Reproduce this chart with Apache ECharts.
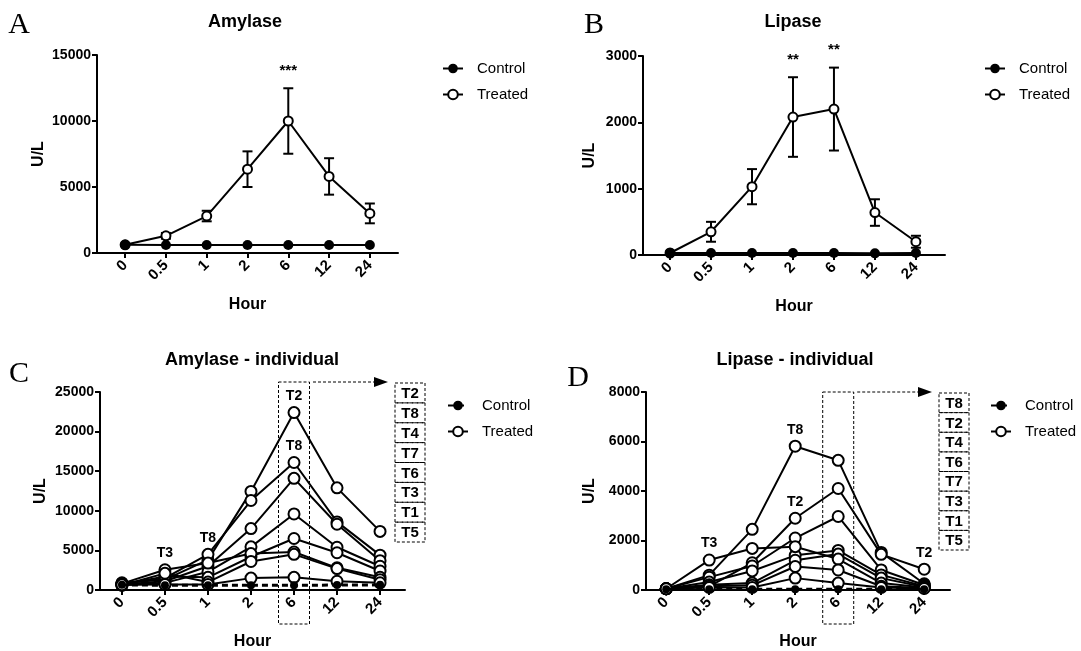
<!DOCTYPE html>
<html>
<head>
<meta charset="utf-8">
<script src="https://cdn.jsdelivr.net/npm/echarts@6/dist/echarts.min.js"></script>
<style>
  html, body { margin: 0; background: #fff; }
  #main { width: 1081px; height: 651px; }
</style>
</head>
<body>
<div id="main"></div>
<script>
// x categories (hours)
const hours = ['0', '0.5', '1', '2', '6', '12', '24'];

// A - amylase mean
const amyControl = [620, 610, 600, 610, 600, 600, 600];
const amyTreated = [620, 1300, 2800, 6350, 10000, 5800, 3000];
const amySem = [0, 220, 400, 1350, 2480, 1380, 750];
const amyStars = ['', '', '', '', '***', '', ''];

// B - lipase mean
const lipControl = [30, 30, 30, 30, 30, 25, 30];
const lipTreated = [30, 350, 1030, 2080, 2200, 640, 200];
const lipSem = [0, 150, 265, 600, 625, 200, 90];
const lipStars = ['', '', '', '**', '**', '', ''];

// C - amylase individual
const amyIndControl = [650, 600, 600, 600, 600, 620, 650];
const amyT2 = [900, 1300, 3800, 12450, 22400, 12900, 7400];
const amyT8 = [800, 1500, 4500, 11300, 16100, 8600, 4400];
const amyT4 = [700, 1100, 3000, 7750, 14100, 8300, 3700];
const amyT7 = [600, 900, 2300, 5450, 9600, 5400, 3000];
const amyT6 = [700, 1700, 1600, 4200, 6500, 4700, 2400];
const amyT3 = [800, 2550, 3400, 4600, 4800, 2800, 1600];
const amyT1 = [600, 2100, 1000, 3600, 4500, 2700, 1300];
const amyT5 = [650, 700, 700, 1500, 1600, 1100, 900];
const amyOrder = ['T2', 'T8', 'T4', 'T7', 'T6', 'T3', 'T1', 'T5'];
const amyAnno = [['T3', 1], ['T8', 2], ['T2', 4], ['T8', 4]];

// D - lipase individual
const lipIndControl = [30, 30, 30, 30, 30, 30, 30];
const lipT8 = [50, 600, 2450, 5810, 5240, 1520, 250];
const lipT2 = [50, 150, 1100, 2900, 4100, 1440, 840];
const lipT4 = [50, 520, 970, 2100, 2970, 810, 200];
const lipT6 = [50, 320, 770, 1400, 1600, 610, 150];
const lipT7 = [50, 210, 280, 1200, 1450, 480, 120];
const lipT3 = [50, 1210, 1680, 1750, 1250, 280, 100];
const lipT1 = [50, 150, 190, 950, 810, 150, 80];
const lipT5 = [50, 100, 100, 480, 280, 100, 60];
const lipOrder = ['T8', 'T2', 'T4', 'T6', 'T7', 'T3', 'T1', 'T5'];
const lipAnno = [['T3', 1], ['T8', 3], ['T2', 3], ['T2', 6]];

const black = '#000';
const sans = '"Liberation Sans", Arial, sans-serif';
const idx = hours.map((h, i) => i);

const chart = echarts.init(document.getElementById('main'));

// grids
const grids = [
  { left: 97, top: 55, width: 301, height: 198 },
  { left: 643, top: 56, width: 302, height: 199 },
  { left: 100, top: 392, width: 305, height: 200 },
  { left: 646, top: 392, width: 304, height: 200 }
];
const xRange = [[-0.69, 6.69], [-0.66, 6.71], [-0.51, 6.58], [-0.47, 6.6]];
const yMax = [15000, 3000, 25000, 8000];
const yStep = [5000, 1000, 5000, 2000];
const yNameGap = [50, 45, 51, 48];

function xAx(i) {
  return {
    gridIndex: i, type: 'value', min: xRange[i][0], max: xRange[i][1],
    name: 'Hour', nameLocation: 'middle', nameGap: 44,
    nameTextStyle: { fontFamily: sans, fontWeight: 'bold', fontSize: 16, color: black },
    axisLine: { onZero: false, lineStyle: { color: black, width: 2 } },
    axisTick: { customValues: idx, length: 5, lineStyle: { color: black, width: 2 } },
    axisLabel: {
      customValues: idx, rotate: 45, margin: 10, formatter: v => hours[v],
      fontFamily: sans, fontWeight: 'bold', fontSize: 15, color: black
    },
    splitLine: { show: false }
  };
}
function yAx(i) {
  return {
    gridIndex: i, type: 'value', min: 0, max: yMax[i], interval: yStep[i],
    name: 'U/L', nameLocation: 'middle', nameGap: yNameGap[i],
    nameTextStyle: { fontFamily: sans, fontWeight: 'bold', fontSize: 16, color: black },
    axisLine: { show: true, onZero: false, lineStyle: { color: black, width: 2 } },
    axisTick: { show: true, length: 5, lineStyle: { color: black, width: 2 } },
    axisLabel: { margin: 6, formatter: v => String(v),
      fontFamily: sans, fontWeight: 'bold', fontSize: 14, color: black },
    splitLine: { show: false }
  };
}

function pts(arr) { return arr.map((v, i) => [i, v]); }

function ctrl(name, gi, arr, dashed) {
  return {
    name, type: 'line', xAxisIndex: gi, yAxisIndex: gi, data: pts(arr),
    symbol: 'circle', symbolSize: dashed ? 8 : 10,
    itemStyle: { color: black },
    lineStyle: { color: black, width: dashed ? 3 : 2, type: dashed ? [6, 4] : 'solid' },
    z: 4, animation: false
  };
}
function treated(name, gi, arr, big, tag, anno) {
  const marks = anno ? anno.filter(a => a[0] === tag).map(a => a[1]) : [];
  return {
    name, type: 'line', xAxisIndex: gi, yAxisIndex: gi,
    data: arr.map((v, i) => marks.indexOf(i) >= 0
      ? { value: [i, v], label: { show: true, position: 'top', distance: 3, formatter: tag,
          fontFamily: sans, fontWeight: 'bold', fontSize: 14, color: black } }
      : [i, v]),
    symbol: 'emptyCircle', symbolSize: big ? 11 : 9, showAllSymbol: true,
    itemStyle: { color: black, borderWidth: big ? 2 : 1 },
    lineStyle: { color: black, width: 2 },
    z: 3, animation: false
  };
}
function errBars(gi, mean, sem, stars) {
  return {
    type: 'custom', xAxisIndex: gi, yAxisIndex: gi, silent: true, z: 2, animation: false,
    data: mean.map((m, i) => [i, m - sem[i], m + sem[i]]),
    encode: { x: 0, y: [1, 2] },
    renderItem: (params, api) => {
      const x = api.value(0);
      const top = api.coord([x, api.value(2)]);
      const bot = api.coord([x, api.value(1)]);
      const st = { stroke: black, lineWidth: 2 };
      const ch = [];
      if (bot[1] - top[1] > 2) {
        ch.push({ type: 'line', shape: { x1: top[0], y1: top[1], x2: bot[0], y2: bot[1] }, style: st });
        ch.push({ type: 'line', shape: { x1: top[0] - 5, y1: top[1], x2: top[0] + 5, y2: top[1] }, style: st });
        ch.push({ type: 'line', shape: { x1: bot[0] - 5, y1: bot[1], x2: bot[0] + 5, y2: bot[1] }, style: st });
      }
      const s = stars[params.dataIndex];
      if (s) {
        ch.push({ type: 'text', x: top[0], y: top[1] - 10,
          style: { text: s, textAlign: 'center', textVerticalAlign: 'bottom',
            font: 'bold 15px ' + sans, fill: black } });
      }
      return { type: 'group', children: ch };
    }
  };
}

const amyInd = { T2: amyT2, T8: amyT8, T4: amyT4, T7: amyT7, T6: amyT6, T3: amyT3, T1: amyT1, T5: amyT5 };
const lipInd = { T8: lipT8, T2: lipT2, T4: lipT4, T6: lipT6, T7: lipT7, T3: lipT3, T1: lipT1, T5: lipT5 };

const series = [
  errBars(0, amyTreated, amySem, amyStars),
  ctrl('Control', 0, amyControl, false),
  treated('Treated', 0, amyTreated, false),
  errBars(1, lipTreated, lipSem, lipStars),
  ctrl('Control', 1, lipControl, false),
  treated('Treated', 1, lipTreated, false),
  ctrl('Control (ind)', 2, amyIndControl, true),
  ctrl('Control (ind)', 3, lipIndControl, true)
];
amyOrder.forEach(t => series.push(treated('Treated (ind)', 2, amyInd[t], true, t, amyAnno)));
lipOrder.forEach(t => series.push(treated('Treated (ind)', 3, lipInd[t], true, t, lipAnno)));

function leg(left, top, names) {
  return {
    left, top, orient: 'vertical', itemGap: 11, itemWidth: 20, itemHeight: 12,
    data: names, selectedMode: false,
    formatter: n => n.replace(' (ind)', ''),
    textStyle: { fontFamily: sans, fontSize: 15, color: black, padding: [0, 0, 0, 9] }
  };
}

function txt(x, y, text, font) {
  return { type: 'text', x, y, silent: true,
    style: { text, font, fill: black, textAlign: 'center', textVerticalAlign: 'middle' } };
}
const titleFont = 'bold 18px ' + sans;
const letterFont = '30px "Liberation Serif", "Times New Roman", serif';

chart.setOption({
  animation: false,
  backgroundColor: '#fff',
  grid: grids,
  xAxis: [0, 1, 2, 3].map(xAx),
  yAxis: [0, 1, 2, 3].map(yAx),
  legend: [
    leg(437, 56, ['Control', 'Treated']),
    leg(979, 56, ['Control', 'Treated']),
    leg(442, 393, ['Control (ind)', 'Treated (ind)']),
    leg(985, 393, ['Control (ind)', 'Treated (ind)'])
  ],
  series
});

// annotation layer: titles, panel letters, 6 h bracket, arrows and ranked id boxes
function bracket(gi, order, boxTop, stackX, stackTop, stackBottom) {
  const c = chart.convertToPixel({ gridIndex: gi }, [4, 0]);
  const g = grids[gi];
  const out = [];
  const dash = { stroke: black, lineWidth: 1, lineDash: [3, 2], fill: null };
  out.push({ type: 'rect', silent: true,
    shape: { x: c[0] - 15.5, y: boxTop, width: 31, height: g.top + g.height + 32 - boxTop }, style: dash });
  out.push({ type: 'line', silent: true,
    shape: { x1: c[0] + 19, y1: boxTop, x2: stackX - 20, y2: boxTop }, style: { stroke: black, lineWidth: 1, lineDash: [3, 2] } });
  out.push({ type: 'polygon', silent: true,
    shape: { points: [[stackX - 21, boxTop - 5], [stackX - 7, boxTop], [stackX - 21, boxTop + 5]] }, style: { fill: black } });
  const h = (stackBottom - stackTop) / order.length;
  order.forEach((t, k) => {
    out.push({ type: 'rect', silent: true,
      shape: { x: stackX, y: stackTop + k * h, width: 30, height: h }, style: dash });
    out.push(txt(stackX + 15, stackTop + k * h + h / 2 + 1, t, 'bold 15px ' + sans));
  });
  return out;
}

chart.setOption({
  graphic: [
    txt(19, 25, 'A', letterFont),
    txt(594, 25, 'B', letterFont),
    txt(19, 374, 'C', letterFont),
    txt(578, 378, 'D', letterFont),
    txt(245, 22, 'Amylase', titleFont),
    txt(793, 22, 'Lipase', titleFont),
    txt(252, 360, 'Amylase - individual', titleFont),
    txt(795, 360, 'Lipase - individual', titleFont)
  ].concat(
    bracket(2, amyOrder, 382, 395, 383, 542),
    bracket(3, lipOrder, 392, 939, 393, 550)
  )
});
</script>
</body>
</html>
